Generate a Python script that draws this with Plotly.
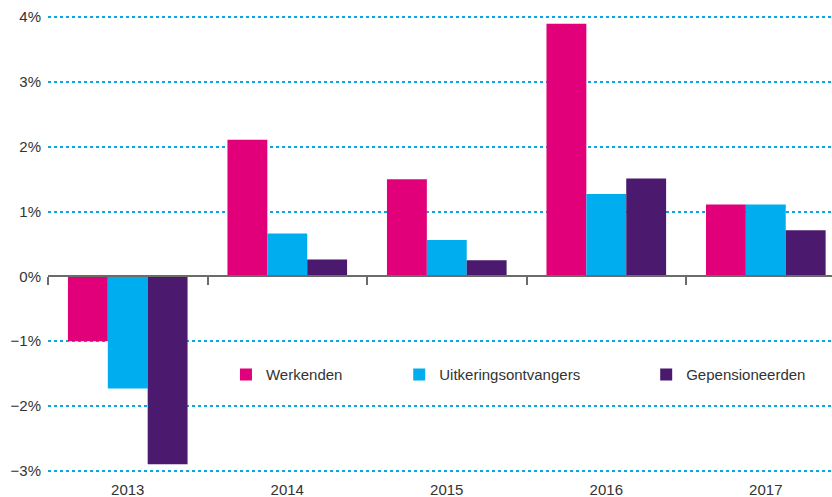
import plotly.graph_objects as go

years = ["2013", "2014", "2015", "2016", "2017"]
werkenden = [-1.0, 2.11, 1.50, 3.90, 1.11]
uitkering = [-1.73, 0.66, 0.56, 1.27, 1.11]
gepensioneerden = [-2.90, 0.26, 0.25, 1.51, 0.71]
y_ticks = [-3, -2, -1, 0, 1, 2, 3, 4]
y_ticktext = ["\u22123%", "\u22122%", "\u22121%", "0%", "1%", "2%", "3%", "4%"]

series = [
    ("Werkenden", werkenden, "#e2007a", "legend"),
    ("Uitkeringsontvangers", uitkering, "#00aeef", "legend2"),
    ("Gepensioneerden", gepensioneerden, "#4b196e", "legend3"),
]

x = list(range(len(years)))
y_min, y_max = -3.05, 4.25

fig = go.Figure()
for name, vals, color, leg in series:
    fig.add_trace(go.Bar(x=x, y=vals, name=name, marker_color=color,
                         marker_line_width=0, legend=leg))

font = dict(family="Liberation Sans, Arial, sans-serif", size=15, color="#333333")

fig.update_layout(
    width=832, height=497,
    margin=dict(l=48, r=0, t=1, b=23),
    plot_bgcolor="white", paper_bgcolor="white",
    font=font,
    barmode="group", bargap=0.25, bargroupgap=0,
    xaxis=dict(range=[-0.5, 4.415], tickvals=x, ticktext=years,
               showgrid=False, zeroline=False, showline=False, ticks="",
               ticklabelstandoff=5, automargin=False),
    xaxis2=dict(overlaying="x", matches="x", anchor="free",
                position=(0 - y_min) / (y_max - y_min),
                showline=True, linecolor="#6b6b6b", linewidth=2,
                tickvals=[-0.5, 0.5, 1.5, 2.5, 3.5], showticklabels=False,
                ticks="outside", ticklen=8, tickwidth=2, tickcolor="#6b6b6b",
                showgrid=False, zeroline=False, automargin=False),
    yaxis=dict(range=[y_min, y_max], tickvals=y_ticks, ticktext=y_ticktext,
               showgrid=True, gridcolor="#0aa5e3",
               griddash="dot", gridwidth=1.5, zeroline=False, showline=False,
               ticklabelstandoff=6, automargin=False),
    showlegend=True,
)

legend_x = [0.227, 0.448, 0.763]
for key, lx in zip(["legend", "legend2", "legend3"], legend_x):
    fig.update_layout({key: dict(x=lx, y=0.21, xanchor="left", yanchor="middle",
                                 orientation="h", bgcolor="rgba(0,0,0,0)",
                                 font=font, itemwidth=30)})

# invisible trace to activate the zero-line axis
fig.add_trace(go.Scatter(x=[0], y=[0], xaxis="x2", mode="markers",
                         marker_opacity=0, showlegend=False, hoverinfo="skip"))

fig.write_html("out.html", config={"displayModeBar": False},
               post_script="document.body.style.margin='0';")
